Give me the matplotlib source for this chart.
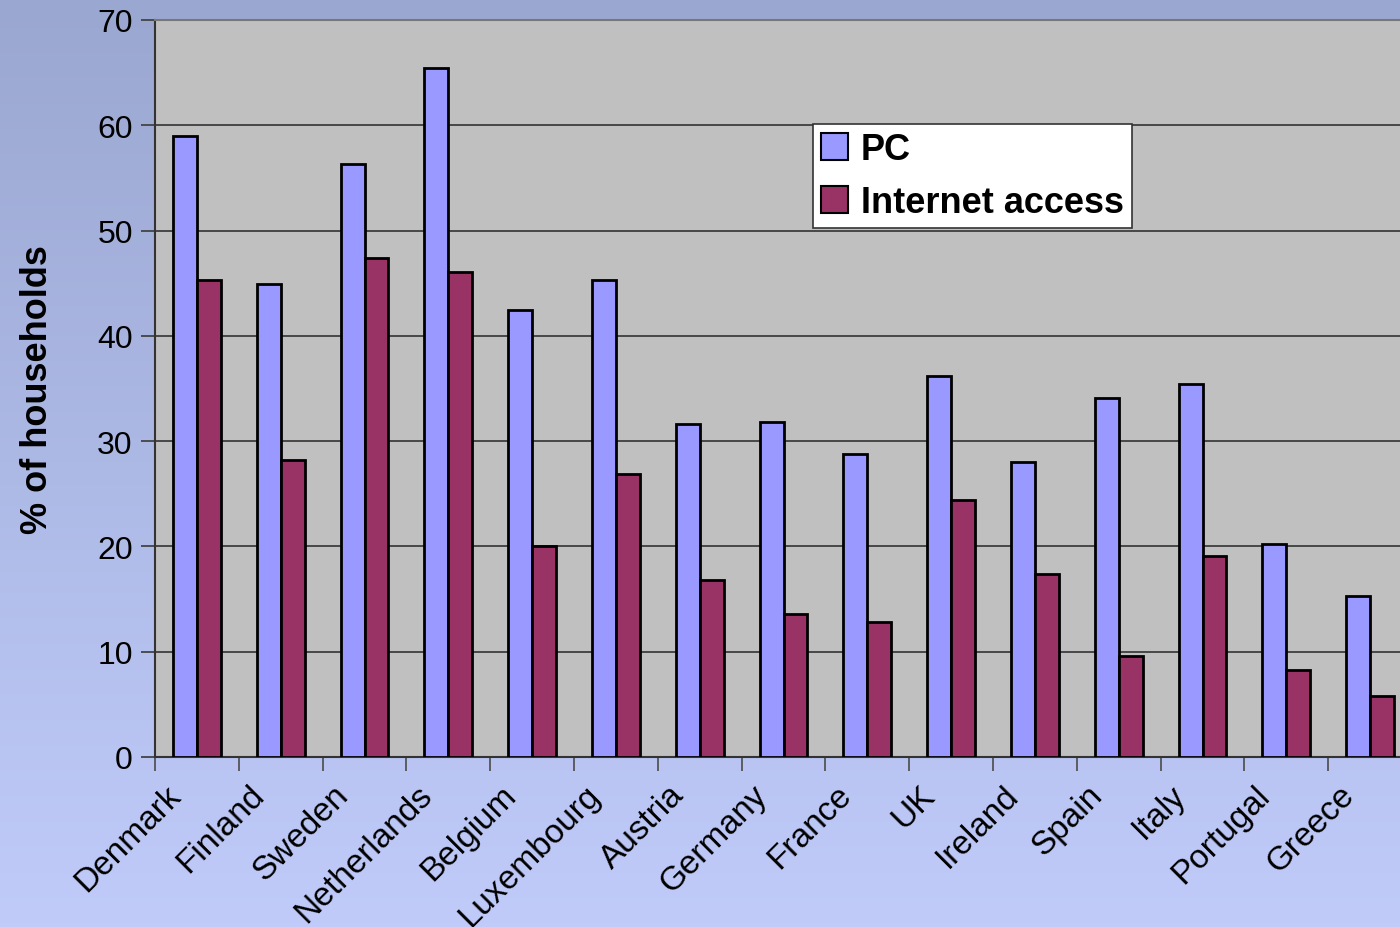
import matplotlib.pyplot as plt
import numpy as np
from matplotlib.patches import Patch

plt.rcParams['font.family'] = ['Liberation Sans', 'DejaVu Sans']

countries = ['Denmark', 'Finland', 'Sweden', 'Netherlands', 'Belgium', 'Luxembourg',
             'Austria', 'Germany', 'France', 'UK', 'Ireland', 'Spain', 'Italy',
             'Portugal', 'Greece']
pc = [59.0, 44.9, 56.3, 65.4, 42.5, 45.3, 31.6, 31.8, 28.8, 36.2, 28.0, 34.1, 35.4, 20.2, 15.3]
internet = [45.3, 28.2, 47.4, 46.1, 20.0, 26.9, 16.8, 13.6, 12.8, 24.4, 17.4, 9.6, 19.1, 8.3, 5.8]

pc_color = '#9999ff'
net_color = '#993366'

fig = plt.figure(figsize=(14, 9.28), dpi=100)

# gradient background
bg = fig.add_axes([0, 0, 1, 1], zorder=-10)
grad = np.linspace(0, 1, 256).reshape(-1, 1)
top = np.array([0x9a, 0xa7, 0xd0]) / 255
bot = np.array([0xc0, 0xcb, 0xfa]) / 255
img = top + (bot - top) * grad[:, :, None]
bg.imshow(img, aspect='auto', extent=[0, 1, 0, 1])
bg.axis('off')

ax = fig.add_axes([155 / 1400, 1 - 758 / 928, 1257 / 1400, 737 / 928])
ax.set_facecolor('#c0c0c0')

x = np.arange(len(countries))
w = 0.286
ax.bar(x - w / 2, pc, w, color=pc_color, edgecolor='black', linewidth=2, zorder=3, label='PC')
ax.bar(x + w / 2, internet, w, color=net_color, edgecolor='black', linewidth=2, zorder=3,
       label='Internet access')

ax.set_xlim(-0.5, len(countries) - 0.5)
ax.set_ylim(0, 70)
ax.set_yticks(range(0, 71, 10))
ax.yaxis.grid(True, color='#333333', linewidth=1.2, zorder=1)
ax.tick_params(axis='y', labelsize=23, length=10, width=1.3, color='#444444', pad=6)

# category boundary ticks, labels placed by hand
ax.set_xticks(np.arange(len(countries) + 1) - 0.5, minor=False)
ax.set_xticklabels([])
ax.tick_params(axis='x', length=10, width=1.3, color='#555555')
for i, name in enumerate(countries):
    ax.text(i - 0.38, -2.1, name, rotation=45, ha='right', va='top', rotation_mode='anchor',
            fontsize=24)

for s in ['left', 'bottom']:
    ax.spines[s].set_color('#333333')
    ax.spines[s].set_linewidth(1.5)
ax.spines['top'].set_color('#777777')
ax.spines['top'].set_linewidth(1.5)
ax.spines['right'].set_visible(False)

ax.set_ylabel('% of households', fontsize=26, fontweight='bold', labelpad=30)

handles = [Patch(facecolor=pc_color, edgecolor='black', linewidth=1.5),
           Patch(facecolor=net_color, edgecolor='black', linewidth=1.5)]
leg = ax.legend(handles, ['PC', 'Internet access'], loc='upper left',
                bbox_to_anchor=(813 / 1400, 1 - 125 / 928), bbox_transform=fig.transFigure,
                prop={'size': 26, 'weight': 'bold'}, frameon=True, fancybox=False,
                handlelength=0.75, handleheight=0.75, handletextpad=0.35,
                borderpad=0.22, labelspacing=0.5, borderaxespad=0)
leg.get_frame().set_edgecolor('#333333')
leg.get_frame().set_linewidth(1.2)
leg.get_frame().set_facecolor('white')
leg.get_frame().set_alpha(1)

fig.savefig('out.png', dpi=100)
